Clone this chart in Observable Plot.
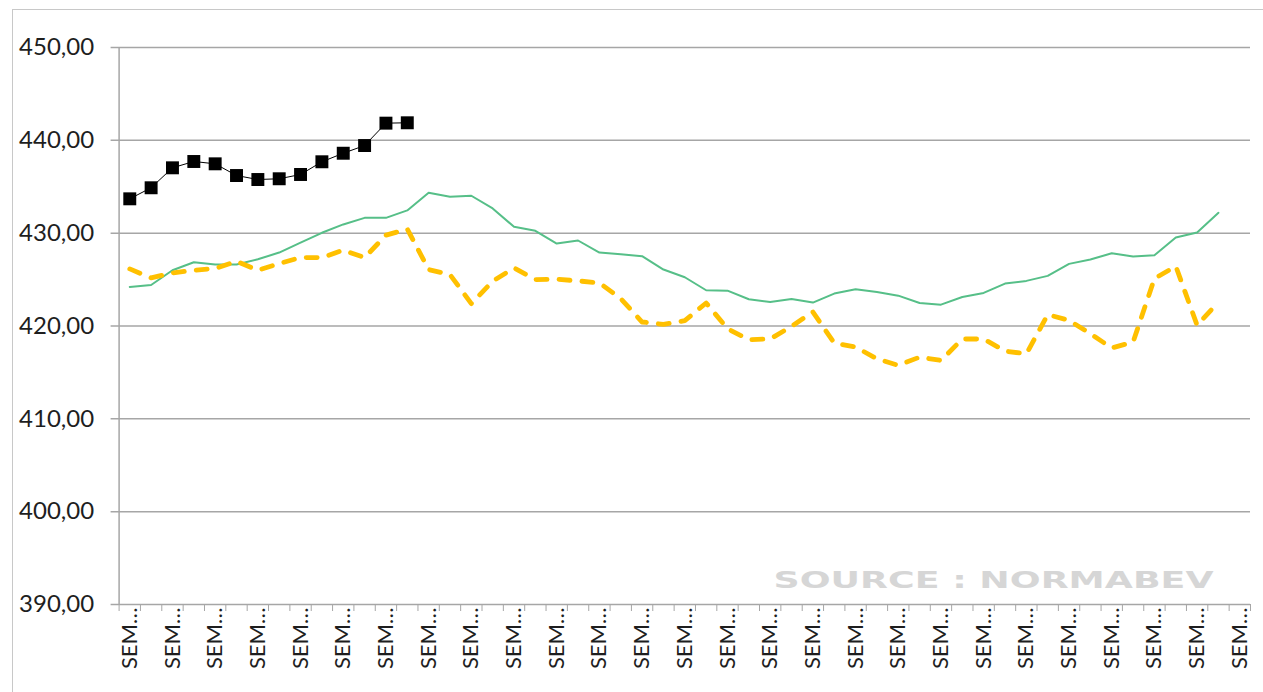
<!DOCTYPE html>
<html>
<head>
<meta charset="utf-8">
<script src="https://cdn.jsdelivr.net/npm/d3@7"></script>
<script src="https://cdn.jsdelivr.net/npm/@observablehq/plot@0.6"></script>
<style>
  html, body { margin: 0; padding: 0; background: #fff; width: 1263px; height: 692px; overflow: hidden; }
  #frame { position: absolute; left: 12px; top: 9px; right: 0; bottom: 0; border-left: 1.5px solid #c8c8c8; border-top: 1.5px solid #c8c8c8; }
  #chart { position: absolute; left: 0; top: 0; }
</style>
</head>
<body>
<div id="frame"></div>
<div id="chart"></div>
<script>
// Category labels (weeks)
const weeks = [
  "SEMAINE 1","SEMAINE 2","SEMAINE 3","SEMAINE 4","SEMAINE 5","SEMAINE 6","SEMAINE 7","SEMAINE 8","SEMAINE 9","SEMAINE 10",
  "SEMAINE 11","SEMAINE 12","SEMAINE 13","SEMAINE 14","SEMAINE 15","SEMAINE 16","SEMAINE 17","SEMAINE 18","SEMAINE 19","SEMAINE 20",
  "SEMAINE 21","SEMAINE 22","SEMAINE 23","SEMAINE 24","SEMAINE 25","SEMAINE 26","SEMAINE 27","SEMAINE 28","SEMAINE 29","SEMAINE 30",
  "SEMAINE 31","SEMAINE 32","SEMAINE 33","SEMAINE 34","SEMAINE 35","SEMAINE 36","SEMAINE 37","SEMAINE 38","SEMAINE 39","SEMAINE 40",
  "SEMAINE 41","SEMAINE 42","SEMAINE 43","SEMAINE 44","SEMAINE 45","SEMAINE 46","SEMAINE 47","SEMAINE 48","SEMAINE 49","SEMAINE 50",
  "SEMAINE 51","SEMAINE 52","SEMAINE 53"
];

// Series values
const seriesCurrent = [433.70, 434.89, 437.04, 437.72, 437.47, 436.21, 435.78, 435.86, 436.32, 437.69, 438.61, 439.44, 441.85, 441.89];

const seriesGreen = [
  424.21, 424.42, 426.01, 426.87, 426.62, 426.62, 427.19, 427.91, 428.99, 430.04, 430.94, 431.65, 431.65, 432.45,
  434.35, 433.92, 434.03, 432.66, 430.68, 430.25, 428.88, 429.21, 427.91, 427.73, 427.52, 426.08, 425.25,
  423.85, 423.81, 422.88, 422.59, 422.91, 422.52, 423.49, 423.96, 423.67, 423.27, 422.48, 422.30, 423.13,
  423.56, 424.57, 424.86, 425.40, 426.69, 427.16, 427.84, 427.48, 427.63, 429.53, 430.07, 432.19
];

const seriesYellow = [
  426.15, 425.18, 425.72, 426.00, 426.19, 426.98, 426.00, 426.73, 427.37, 427.37, 428.17, 427.37, 429.78, 430.45,
  426.08, 425.54, 422.41, 424.82, 426.26, 425.00, 425.04, 424.86, 424.64, 422.95, 420.43, 420.18, 420.58,
  422.48, 419.71, 418.53, 418.60, 419.96, 421.51, 418.17, 417.73, 416.47, 415.76, 416.65, 416.29, 418.60,
  418.60, 417.30, 417.00, 421.22, 420.61, 419.17, 417.63, 418.27, 425.11, 426.44, 420.07, 422.59
];

const yTicks = [390, 400, 410, 420, 430, 440, 450];
const sourceText = "SOURCE : NORMABEV";

// Build tables
const toRows = arr => arr.map((v, i) => ({i, v}));
const greenRows = toRows(seriesGreen);
const yellowRows = toRows(seriesYellow);
const blackRows = toRows(seriesCurrent);

const nCat = weeks.length;
const boundaries = d3.range(nCat + 1).map(k => k - 0.5);
const labelTicks = d3.range(0, nCat, 2);

const W = 1263, H = 692, mT = 47, mB = 88, mL = 118.6, mR = 13;
const yMin = 390, yMax = 450;
const tickLenData = 7 * (yMax - yMin) / (H - mT - mB);

const plot = Plot.plot({
  width: W,
  height: H,
  marginTop: mT,
  marginBottom: mB,
  marginLeft: mL,
  marginRight: mR,
  style: {fontFamily: "Lato, 'Open Sans', sans-serif", fontSize: "24px", color: "#1e1e1e", background: "transparent"},
  x: {
    type: "linear",
    domain: [-0.5, nCat - 0.5],
    ticks: labelTicks,
    tickFormat: i => weeks[i].slice(0, 3) + "…",
    tickSize: 0,
    tickPadding: 3,
    tickRotate: -90,
    label: null
  },
  y: {
    domain: [yMin, yMax],
    ticks: yTicks,
    tickFormat: d => d.toFixed(2).replace(".", ","),
    tickSize: 0,
    tickPadding: 25,
    label: null
  },
  marks: [
    Plot.ruleY(yTicks, {stroke: "#a6a6a6", strokeWidth: 1.5, insetLeft: -8}),
    Plot.ruleX([-0.5], {stroke: "#a6a6a6", strokeWidth: 1.5}),
    Plot.ruleX(boundaries, {x: d => d, y1: yMin, y2: yMin - tickLenData, stroke: "#a6a6a6", strokeWidth: 1}),
    Plot.text([sourceText], {
      frameAnchor: "bottom-right", dx: -37, dy: -17,
      textAnchor: "end", lineAnchor: "bottom",
      fontSize: 23, fontWeight: "bold", fontFamily: "'DejaVu Sans', sans-serif",
      fill: "#d6d6d6"
    }),
    Plot.line(greenRows, {x: "i", y: "v", stroke: "#56bf88", strokeWidth: 2, strokeLinejoin: "round"}),
    Plot.line(yellowRows, {x: "i", y: "v", stroke: "#ffc000", strokeWidth: 4.8, strokeDasharray: "11,12", strokeLinecap: "round", strokeLinejoin: "round"}),
    Plot.line(blackRows, {x: "i", y: "v", stroke: "#000", strokeWidth: 1}),
    Plot.dot(blackRows, {x: "i", y: "v", symbol: "square", r: 7.3, fill: "#000", stroke: "none"})
  ]
});

document.getElementById("chart").appendChild(plot);

// Fine styling
const svg = d3.select(plot);
svg.selectAll("text").filter(function() { return this.textContent === sourceText; })
  .attr("textLength", 440).attr("lengthAdjust", "spacingAndGlyphs");
svg.selectAll('[aria-label="x-axis"] text, [aria-label="x-axis tick label"] text').attr("font-size", "22px");
</script>
</body>
</html>
